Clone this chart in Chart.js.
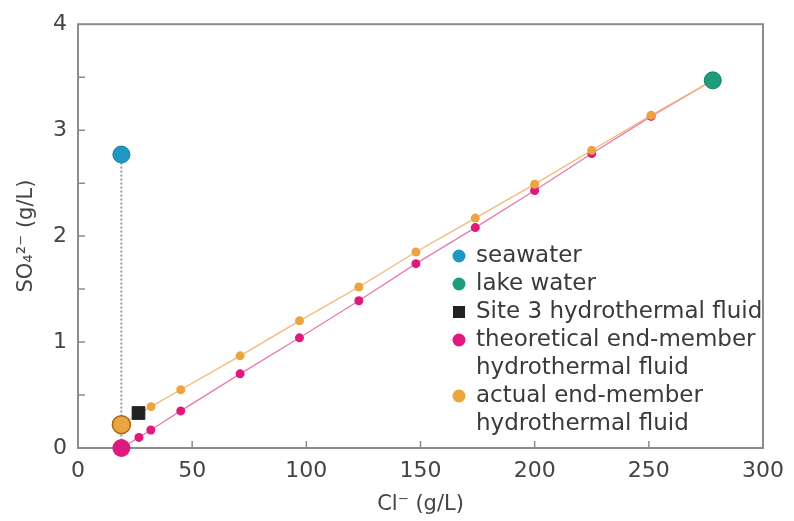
<!DOCTYPE html>
<html>
<head>
<meta charset="utf-8">
<script src="https://cdn.jsdelivr.net/npm/chart.js@4.4.0/dist/chart.umd.min.js"></script>
<style>
  html, body { margin: 0; padding: 0; background: #fff; }
</style>
</head>
<body>
<canvas id="sulfateChart" width="794" height="521"></canvas>
<script>
// values (Cl- and SO4 2- in g/L)
const seawaterCl = [19];
const seawaterSO4 = [2.77];
const lakeCl = [278];
const lakeSO4 = [3.47];
const site3Cl = [26.5];
const site3SO4 = [0.33];
const theoCl = [19, 26.7, 31.9, 45, 71, 97, 123, 148, 174, 200, 225, 251, 278];
const theoSO4 = [0, 0.10, 0.17, 0.35, 0.70, 1.04, 1.39, 1.74, 2.08, 2.43, 2.78, 3.13, 3.47];
const actualCl = [19, 32, 45, 71, 97, 123, 148, 174, 200, 225, 251, 278];
const actualSO4 = [0.22, 0.39, 0.55, 0.87, 1.20, 1.52, 1.85, 2.17, 2.49, 2.81, 3.14, 3.47];
const dilutionCl = [19, 19];
const dilutionSO4 = [2.77, 0];

const legendLabels = [
  ['seawater'],
  ['lake water'],
  ['Site 3 hydrothermal fluid'],
  ['theoretical end-member', 'hydrothermal fluid'],
  ['actual end-member', 'hydrothermal fluid']
];

const toXY = (xs, ys) => xs.map((x, i) => ({ x: x, y: ys[i] }));

const FONT = '"DejaVu Sans", Verdana, sans-serif';
const C_SEA = '#1f97c2';
const C_LAKE = '#1e9c7c';
const C_SITE = '#222222';
const C_THEO = '#e0197f';
const C_ACT = '#eba53e';

// frame + inward ticks
const framePlugin = {
  id: 'frame',
  beforeDatasetsDraw(chart) {
    const ctx = chart.ctx, a = chart.chartArea;
    const xs = chart.scales.x, ys = chart.scales.y;
    ctx.save();
    ctx.strokeStyle = '#8c8c8c';
    ctx.lineWidth = 2;
    ctx.strokeRect(a.left, a.top, a.right - a.left, a.bottom - a.top);
    ctx.lineWidth = 1.5;
    ctx.beginPath();
    for (let v = 50; v < 300; v += 50) {
      const px = xs.getPixelForValue(v);
      ctx.moveTo(px, a.bottom);
      ctx.lineTo(px, a.bottom - 7);
    }
    for (let v = 0.5; v < 4; v += 0.5) {
      const py = ys.getPixelForValue(v);
      ctx.moveTo(a.left, py);
      ctx.lineTo(a.left + 7, py);
    }
    ctx.stroke();
    ctx.restore();
  }
};

const legendPlugin = {
  id: 'customLegend',
  afterDraw(chart) {
    const ctx = chart.ctx;
    const colors = [C_SEA, C_LAKE, C_SITE, C_THEO, C_ACT];
    let y = 256;
    ctx.save();
    ctx.font = '23px ' + FONT;
    ctx.textBaseline = 'middle';
    legendLabels.forEach((lines, i) => {
      ctx.fillStyle = colors[i];
      if (i === 2) {
        ctx.fillRect(453, y - 6, 12, 12);
      } else {
        ctx.beginPath();
        ctx.arc(459, y, 6.5, 0, Math.PI * 2);
        ctx.fill();
      }
      ctx.fillStyle = '#3a3a3a';
      lines.forEach(t => {
        ctx.fillText(t, 476, y);
        y += 28;
      });
    });
    ctx.restore();
  }
};

const bigFirst = (big, small) => (c) => c.dataIndex === 0 ? big : small;

const ctx = document.getElementById('sulfateChart').getContext('2d');
const sulfateChart = new Chart(ctx, {
  type: 'scatter',
  data: {
    datasets: [
      {
        label: 'seawater',
        data: toXY(seawaterCl, seawaterSO4),
        backgroundColor: C_SEA,
        borderColor: '#1a7f9f',
        borderWidth: 1,
        pointRadius: 8.5,
        clip: false
      },
      {
        label: 'lake water',
        data: toXY(lakeCl, lakeSO4),
        backgroundColor: C_LAKE,
        borderColor: '#167d62',
        borderWidth: 1,
        pointRadius: 8.5,
        clip: false
      },
      {
        label: 'Site 3 hydrothermal fluid',
        data: toXY(site3Cl, site3SO4),
        backgroundColor: C_SITE,
        borderColor: C_SITE,
        pointStyle: 'rect',
        pointRadius: 9,
        clip: false
      },
      {
        label: 'actual end-member hydrothermal fluid',
        data: toXY(actualCl, actualSO4),
        showLine: true,
        borderColor: '#f3b878',
        borderWidth: 1.3,
        backgroundColor: C_ACT,
        pointBorderColor: bigFirst('#a06a1c', C_ACT),
        pointBorderWidth: bigFirst(1.5, 0),
        pointRadius: bigFirst(9, 4.5),
        clip: false
      },
      {
        label: 'theoretical end-member hydrothermal fluid',
        data: toXY(theoCl, theoSO4),
        showLine: true,
        borderColor: '#ea78b0',
        borderWidth: 1.3,
        backgroundColor: C_THEO,
        pointBorderColor: C_THEO,
        pointBorderWidth: 0,
        pointRadius: bigFirst(9, 4.5),
        clip: false
      },
      {
        label: 'dilution',
        data: toXY(dilutionCl, dilutionSO4),
        showLine: true,
        borderColor: '#9a9a9a',
        borderWidth: 2,
        borderDash: [2, 2],
        pointRadius: 0,
        clip: false
      }
    ]
  },
  options: {
    responsive: false,
    animation: false,
    layout: { padding: { top: 21, right: 27, left: 0, bottom: 0 } },
    plugins: {
      legend: { display: false },
      tooltip: { enabled: false }
    },
    scales: {
      x: {
        type: 'linear',
        min: 0,
        max: 300,
        ticks: {
          stepSize: 50,
          color: '#444',
          padding: 10,
          font: { family: FONT, size: 22 }
        },
        grid: { display: false, drawTicks: false },
        border: { display: false },
        title: {
          display: true,
          text: 'Cl⁻ (g/L)',
          color: '#444',
          padding: { top: 1 },
          font: { family: FONT, size: 21 }
        },
        afterFit(s) { s.height = 73; }
      },
      y: {
        min: 0,
        max: 4,
        ticks: {
          stepSize: 1,
          color: '#444',
          padding: 11,
          font: { family: FONT, size: 22 }
        },
        grid: { display: false, drawTicks: false },
        border: { display: false },
        title: {
          display: true,
          text: 'SO₄²⁻ (g/L)',
          color: '#444',
          padding: { top: 14 },
          font: { family: FONT, size: 21 }
        },
        afterFit(s) { s.width = 78; }
      }
    }
  },
  plugins: [framePlugin, legendPlugin]
});
</script>
</body>
</html>
